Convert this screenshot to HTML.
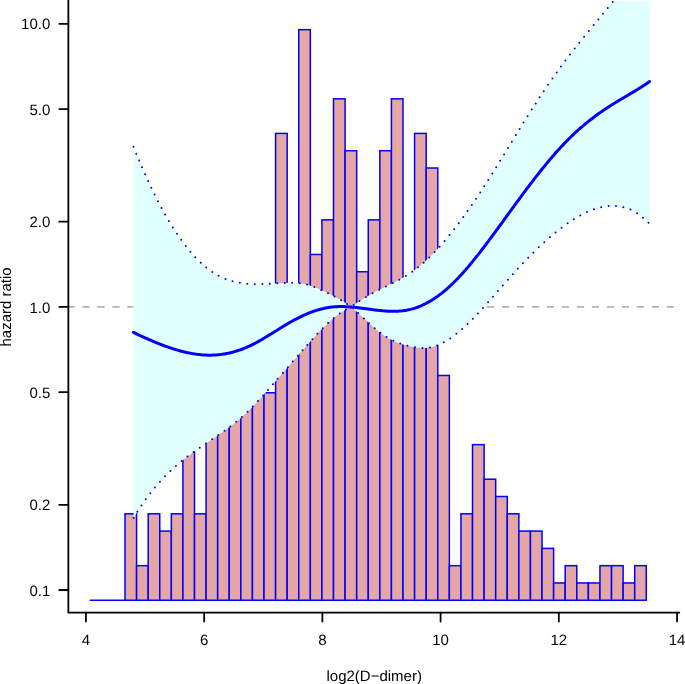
<!DOCTYPE html>
<html><head><meta charset="utf-8"><style>
html,body{margin:0;padding:0;background:#fff;}
body{width:685px;height:684px;overflow:hidden;}
svg{display:block;will-change:transform;}
text{font-family:"Liberation Sans",sans-serif;font-size:15.0px;fill:#000;text-rendering:geometricPrecision;}
</style></head><body>
<svg width="685" height="684" viewBox="0 0 685 684">
<defs><clipPath id="pc"><rect x="68.36" y="1.0" width="611.64" height="611.66"/></clipPath></defs>
<g clip-path="url(#pc)">
<line x1="67.4" y1="306.91" x2="680.0" y2="306.91" stroke="#B3B3B3" stroke-width="1.9" stroke-dasharray="7.2 7.785"/>
<rect x="125.00" y="513.80" width="11.58" height="86.45" fill="#E5A6A6" stroke="#0000FF" stroke-width="1.5"/>
<rect x="136.59" y="565.67" width="11.58" height="34.58" fill="#E5A6A6" stroke="#0000FF" stroke-width="1.5"/>
<rect x="148.17" y="513.80" width="11.58" height="86.45" fill="#E5A6A6" stroke="#0000FF" stroke-width="1.5"/>
<rect x="159.75" y="531.09" width="11.58" height="69.16" fill="#E5A6A6" stroke="#0000FF" stroke-width="1.5"/>
<rect x="171.34" y="513.80" width="11.58" height="86.45" fill="#E5A6A6" stroke="#0000FF" stroke-width="1.5"/>
<rect x="182.92" y="352.64" width="11.58" height="247.61" fill="#E5A6A6" stroke="#0000FF" stroke-width="1.5"/>
<rect x="194.51" y="513.80" width="11.58" height="86.45" fill="#E5A6A6" stroke="#0000FF" stroke-width="1.5"/>
<rect x="206.09" y="355.59" width="11.58" height="244.66" fill="#E5A6A6" stroke="#0000FF" stroke-width="1.5"/>
<rect x="217.67" y="354.79" width="11.58" height="245.46" fill="#E5A6A6" stroke="#0000FF" stroke-width="1.5"/>
<rect x="229.26" y="352.32" width="11.58" height="247.93" fill="#E5A6A6" stroke="#0000FF" stroke-width="1.5"/>
<rect x="240.84" y="348.20" width="11.58" height="252.05" fill="#E5A6A6" stroke="#0000FF" stroke-width="1.5"/>
<rect x="252.43" y="342.50" width="11.58" height="257.75" fill="#E5A6A6" stroke="#0000FF" stroke-width="1.5"/>
<rect x="264.01" y="392.77" width="11.58" height="207.48" fill="#E5A6A6" stroke="#0000FF" stroke-width="1.5"/>
<rect x="275.59" y="133.42" width="11.58" height="466.83" fill="#E5A6A6" stroke="#0000FF" stroke-width="1.5"/>
<rect x="287.18" y="322.07" width="11.58" height="278.18" fill="#E5A6A6" stroke="#0000FF" stroke-width="1.5"/>
<rect x="298.76" y="29.68" width="11.58" height="570.57" fill="#E5A6A6" stroke="#0000FF" stroke-width="1.5"/>
<rect x="310.35" y="254.45" width="11.58" height="345.80" fill="#E5A6A6" stroke="#0000FF" stroke-width="1.5"/>
<rect x="321.93" y="219.87" width="11.58" height="380.38" fill="#E5A6A6" stroke="#0000FF" stroke-width="1.5"/>
<rect x="333.51" y="98.84" width="11.58" height="501.41" fill="#E5A6A6" stroke="#0000FF" stroke-width="1.5"/>
<rect x="345.10" y="150.71" width="11.58" height="449.54" fill="#E5A6A6" stroke="#0000FF" stroke-width="1.5"/>
<rect x="356.68" y="271.74" width="11.58" height="328.51" fill="#E5A6A6" stroke="#0000FF" stroke-width="1.5"/>
<rect x="368.27" y="219.87" width="11.58" height="380.38" fill="#E5A6A6" stroke="#0000FF" stroke-width="1.5"/>
<rect x="379.85" y="150.71" width="11.58" height="449.54" fill="#E5A6A6" stroke="#0000FF" stroke-width="1.5"/>
<rect x="391.43" y="98.84" width="11.58" height="501.41" fill="#E5A6A6" stroke="#0000FF" stroke-width="1.5"/>
<rect x="403.02" y="310.04" width="11.58" height="290.21" fill="#E5A6A6" stroke="#0000FF" stroke-width="1.5"/>
<rect x="414.60" y="133.42" width="11.58" height="466.83" fill="#E5A6A6" stroke="#0000FF" stroke-width="1.5"/>
<rect x="426.19" y="168.00" width="11.58" height="432.25" fill="#E5A6A6" stroke="#0000FF" stroke-width="1.5"/>
<rect x="437.77" y="375.48" width="11.58" height="224.77" fill="#E5A6A6" stroke="#0000FF" stroke-width="1.5"/>
<rect x="449.35" y="565.67" width="11.58" height="34.58" fill="#E5A6A6" stroke="#0000FF" stroke-width="1.5"/>
<rect x="460.94" y="513.80" width="11.58" height="86.45" fill="#E5A6A6" stroke="#0000FF" stroke-width="1.5"/>
<rect x="472.52" y="444.64" width="11.58" height="155.61" fill="#E5A6A6" stroke="#0000FF" stroke-width="1.5"/>
<rect x="484.11" y="479.22" width="11.58" height="121.03" fill="#E5A6A6" stroke="#0000FF" stroke-width="1.5"/>
<rect x="495.69" y="496.51" width="11.58" height="103.74" fill="#E5A6A6" stroke="#0000FF" stroke-width="1.5"/>
<rect x="507.27" y="513.80" width="11.58" height="86.45" fill="#E5A6A6" stroke="#0000FF" stroke-width="1.5"/>
<rect x="518.86" y="531.09" width="11.58" height="69.16" fill="#E5A6A6" stroke="#0000FF" stroke-width="1.5"/>
<rect x="530.44" y="531.09" width="11.58" height="69.16" fill="#E5A6A6" stroke="#0000FF" stroke-width="1.5"/>
<rect x="542.03" y="548.38" width="11.58" height="51.87" fill="#E5A6A6" stroke="#0000FF" stroke-width="1.5"/>
<rect x="553.61" y="582.96" width="11.58" height="17.29" fill="#E5A6A6" stroke="#0000FF" stroke-width="1.5"/>
<rect x="565.19" y="565.67" width="11.58" height="34.58" fill="#E5A6A6" stroke="#0000FF" stroke-width="1.5"/>
<rect x="576.78" y="582.96" width="11.58" height="17.29" fill="#E5A6A6" stroke="#0000FF" stroke-width="1.5"/>
<rect x="588.36" y="582.96" width="11.58" height="17.29" fill="#E5A6A6" stroke="#0000FF" stroke-width="1.5"/>
<rect x="599.95" y="565.67" width="11.58" height="34.58" fill="#E5A6A6" stroke="#0000FF" stroke-width="1.5"/>
<rect x="611.53" y="565.67" width="11.58" height="34.58" fill="#E5A6A6" stroke="#0000FF" stroke-width="1.5"/>
<rect x="623.11" y="582.96" width="11.58" height="17.29" fill="#E5A6A6" stroke="#0000FF" stroke-width="1.5"/>
<rect x="634.70" y="565.67" width="11.58" height="34.58" fill="#E5A6A6" stroke="#0000FF" stroke-width="1.5"/>
<line x1="90.25" y1="600.25" x2="125.00" y2="600.25" stroke="#0000FF" stroke-width="1.5" stroke-linecap="round"/>
<polygon points="133.50,146.71 134.50,149.21 135.50,151.69 136.50,154.14 137.50,156.57 138.50,158.97 139.50,161.36 140.50,163.71 141.50,166.05 142.50,168.36 143.50,170.65 144.50,172.92 145.50,175.16 146.50,177.38 147.50,179.57 148.50,181.74 149.50,183.89 150.50,186.01 151.50,188.11 152.50,190.19 153.50,192.25 154.50,194.28 155.50,196.28 156.50,198.27 157.50,200.23 158.50,202.16 159.50,204.08 160.50,205.97 161.50,207.84 162.50,209.68 163.50,211.50 164.50,213.29 165.50,215.07 166.50,216.82 167.50,218.54 168.50,220.25 169.50,221.93 170.50,223.58 171.50,225.22 172.50,226.82 173.50,228.41 174.50,229.97 175.50,231.51 176.50,233.03 177.50,234.52 178.50,235.99 179.50,237.44 180.50,238.86 181.50,240.26 182.50,241.63 183.50,242.99 184.50,244.32 185.50,245.62 186.50,246.90 187.50,248.16 188.50,249.40 189.50,250.61 190.50,251.80 191.50,252.97 192.50,254.11 193.50,255.23 194.50,256.32 195.50,257.40 196.50,258.45 197.50,259.47 198.50,260.47 199.50,261.45 200.50,262.41 201.50,263.34 202.50,264.25 203.50,265.14 204.50,266.00 205.50,266.84 206.50,267.66 207.50,268.45 208.50,269.22 209.50,269.97 210.50,270.69 211.50,271.39 212.50,272.07 213.50,272.72 214.50,273.35 215.50,273.96 216.50,274.55 217.50,275.11 218.50,275.65 219.50,276.18 220.50,276.68 221.50,277.16 222.50,277.62 223.50,278.06 224.50,278.49 225.50,278.89 226.50,279.28 227.50,279.65 228.50,280.00 229.50,280.33 230.50,280.65 231.50,280.95 232.50,281.23 233.50,281.50 234.50,281.75 235.50,281.99 236.50,282.21 237.50,282.42 238.50,282.62 239.50,282.80 240.50,282.97 241.50,283.12 242.50,283.26 243.50,283.39 244.50,283.51 245.50,283.62 246.50,283.72 247.50,283.81 248.50,283.88 249.50,283.95 250.50,284.01 251.50,284.05 252.50,284.09 253.50,284.12 254.50,284.15 255.50,284.16 256.50,284.17 257.50,284.17 258.50,284.17 259.50,284.15 260.50,284.14 261.50,284.12 262.50,284.09 263.50,284.06 264.50,284.02 265.50,283.98 266.50,283.94 267.50,283.89 268.50,283.84 269.50,283.79 270.50,283.73 271.50,283.68 272.50,283.62 273.50,283.56 274.50,283.51 275.50,283.45 276.50,283.39 277.50,283.33 278.50,283.27 279.50,283.22 280.50,283.17 281.50,283.11 282.50,283.06 283.50,283.02 284.50,282.97 285.50,282.93 286.50,282.90 287.50,282.87 288.50,282.85 289.50,282.83 290.50,282.82 291.50,282.82 292.50,282.83 293.50,282.85 294.50,282.88 295.50,282.92 296.50,282.98 297.50,283.05 298.50,283.14 299.50,283.24 300.50,283.36 301.50,283.49 302.50,283.65 303.50,283.82 304.50,284.02 305.50,284.23 306.50,284.47 307.50,284.73 308.50,285.02 309.50,285.32 310.50,285.65 311.50,285.99 312.50,286.36 313.50,286.73 314.50,287.12 315.50,287.53 316.50,287.95 317.50,288.37 318.50,288.81 319.50,289.25 320.50,289.70 321.50,290.15 322.50,290.61 323.50,291.07 324.50,291.54 325.50,292.01 326.50,292.48 327.50,292.96 328.50,293.45 329.50,293.95 330.50,294.45 331.50,294.95 332.50,295.47 333.50,295.99 334.50,296.52 335.50,297.05 336.50,297.60 337.50,298.16 338.50,298.72 339.50,299.29 340.50,299.88 341.50,300.47 342.50,301.07 343.50,301.69 344.50,302.32 345.50,302.95 346.50,303.60 347.50,304.27 348.50,304.94 349.50,305.63 350.50,306.33 351.30,306.90 352.30,306.14 353.30,305.41 354.30,304.68 355.30,303.97 356.30,303.27 357.30,302.59 358.30,301.92 359.30,301.26 360.30,300.61 361.30,299.97 362.30,299.34 363.30,298.72 364.30,298.11 365.30,297.51 366.30,296.92 367.30,296.33 368.30,295.75 369.30,295.18 370.30,294.61 371.30,294.05 372.30,293.50 373.30,292.95 374.30,292.40 375.30,291.86 376.30,291.32 377.30,290.79 378.30,290.26 379.30,289.74 380.30,289.22 381.30,288.70 382.30,288.19 383.30,287.68 384.30,287.18 385.30,286.68 386.30,286.19 387.30,285.70 388.30,285.21 389.30,284.72 390.30,284.24 391.30,283.75 392.30,283.26 393.30,282.77 394.30,282.27 395.30,281.77 396.30,281.26 397.30,280.74 398.30,280.22 399.30,279.68 400.30,279.14 401.30,278.58 402.30,278.01 403.30,277.43 404.30,276.84 405.30,276.24 406.30,275.62 407.30,274.99 408.30,274.35 409.30,273.70 410.30,273.03 411.30,272.35 412.30,271.65 413.30,270.94 414.30,270.21 415.30,269.47 416.30,268.72 417.30,267.95 418.30,267.16 419.30,266.36 420.30,265.55 421.30,264.71 422.30,263.87 423.30,263.00 424.30,262.12 425.30,261.22 426.30,260.30 427.30,259.37 428.30,258.42 429.30,257.46 430.30,256.48 431.30,255.48 432.30,254.47 433.30,253.45 434.30,252.41 435.30,251.36 436.30,250.29 437.30,249.21 438.30,248.12 439.30,247.02 440.30,245.90 441.30,244.77 442.30,243.63 443.30,242.47 444.30,241.31 445.30,240.13 446.30,238.94 447.30,237.74 448.30,236.53 449.30,235.30 450.30,234.07 451.30,232.82 452.30,231.56 453.30,230.30 454.30,229.02 455.30,227.73 456.30,226.43 457.30,225.11 458.30,223.79 459.30,222.46 460.30,221.12 461.30,219.76 462.30,218.40 463.30,217.03 464.30,215.64 465.30,214.25 466.30,212.85 467.30,211.44 468.30,210.02 469.30,208.59 470.30,207.15 471.30,205.70 472.30,204.24 473.30,202.77 474.30,201.30 475.30,199.81 476.30,198.32 477.30,196.82 478.30,195.31 479.30,193.79 480.30,192.27 481.30,190.73 482.30,189.19 483.30,187.65 484.30,186.09 485.30,184.53 486.30,182.97 487.30,181.40 488.30,179.82 489.30,178.23 490.30,176.65 491.30,175.05 492.30,173.46 493.30,171.85 494.30,170.25 495.30,168.64 496.30,167.02 497.30,165.40 498.30,163.78 499.30,162.16 500.30,160.53 501.30,158.91 502.30,157.28 503.30,155.64 504.30,154.01 505.30,152.37 506.30,150.74 507.30,149.10 508.30,147.46 509.30,145.82 510.30,144.18 511.30,142.55 512.30,140.91 513.30,139.27 514.30,137.63 515.30,136.00 516.30,134.37 517.30,132.73 518.30,131.11 519.30,129.48 520.30,127.85 521.30,126.23 522.30,124.61 523.30,123.00 524.30,121.39 525.30,119.78 526.30,118.18 527.30,116.58 528.30,114.98 529.30,113.39 530.30,111.81 531.30,110.23 532.30,108.66 533.30,107.09 534.30,105.53 535.30,103.98 536.30,102.43 537.30,100.89 538.30,99.36 539.30,97.83 540.30,96.31 541.30,94.80 542.30,93.29 543.30,91.80 544.30,90.31 545.30,88.82 546.30,87.35 547.30,85.88 548.30,84.42 549.30,82.96 550.30,81.51 551.30,80.07 552.30,78.64 553.30,77.22 554.30,75.80 555.30,74.39 556.30,72.98 557.30,71.59 558.30,70.20 559.30,68.82 560.30,67.45 561.30,66.08 562.30,64.72 563.30,63.37 564.30,62.03 565.30,60.69 566.30,59.37 567.30,58.05 568.30,56.73 569.30,55.43 570.30,54.13 571.30,52.84 572.30,51.55 573.30,50.27 574.30,48.99 575.30,47.72 576.30,46.46 577.30,45.20 578.30,43.95 579.30,42.70 580.30,41.45 581.30,40.21 582.30,38.97 583.30,37.74 584.30,36.50 585.30,35.27 586.30,34.05 587.30,32.82 588.30,31.60 589.30,30.38 590.30,29.17 591.30,27.95 592.30,26.73 593.30,25.52 594.30,24.31 595.30,23.09 596.30,21.88 597.30,20.67 598.30,19.45 599.30,18.24 600.30,17.02 601.30,15.81 602.30,14.59 603.30,13.38 604.30,12.16 605.30,10.95 606.30,9.74 607.30,8.52 608.30,7.31 609.30,6.11 610.30,4.90 611.30,3.69 612.30,2.49 613.30,1.29 614.30,0.09 615.30,-1.11 616.30,-2.30 617.30,-3.49 618.30,-4.68 619.30,-5.86 620.30,-7.04 621.30,-8.22 622.30,-9.39 623.30,-10.56 624.30,-11.72 625.30,-12.88 626.30,-14.03 627.30,-15.18 628.30,-16.32 629.30,-17.46 630.30,-18.59 631.30,-19.71 632.30,-20.83 633.30,-21.94 634.30,-23.05 635.30,-24.15 636.30,-25.24 637.30,-26.33 638.30,-27.40 639.30,-28.47 640.30,-29.54 641.30,-30.59 642.30,-31.64 643.30,-32.67 644.30,-33.70 645.30,-34.72 646.30,-35.73 647.30,-36.73 648.30,-37.72 649.30,-38.71 649.60,-39.00 649.60,224.00 649.30,223.69 648.30,222.67 647.30,221.67 646.30,220.70 645.30,219.76 644.30,218.85 643.30,217.97 642.30,217.12 641.30,216.30 640.30,215.51 639.30,214.76 638.30,214.04 637.30,213.35 636.30,212.70 635.30,212.09 634.30,211.50 633.30,210.96 632.30,210.44 631.30,209.95 630.30,209.50 629.30,209.08 628.30,208.69 627.30,208.32 626.30,207.99 625.30,207.68 624.30,207.40 623.30,207.15 622.30,206.92 621.30,206.72 620.30,206.55 619.30,206.39 618.30,206.26 617.30,206.16 616.30,206.07 615.30,206.01 614.30,205.97 613.30,205.95 612.30,205.95 611.30,205.96 610.30,206.00 609.30,206.06 608.30,206.14 607.30,206.24 606.30,206.36 605.30,206.49 604.30,206.65 603.30,206.82 602.30,207.01 601.30,207.22 600.30,207.45 599.30,207.69 598.30,207.96 597.30,208.24 596.30,208.53 595.30,208.85 594.30,209.18 593.30,209.52 592.30,209.88 591.30,210.26 590.30,210.66 589.30,211.06 588.30,211.49 587.30,211.93 586.30,212.38 585.30,212.85 584.30,213.33 583.30,213.83 582.30,214.34 581.30,214.86 580.30,215.40 579.30,215.95 578.30,216.51 577.30,217.09 576.30,217.67 575.30,218.27 574.30,218.89 573.30,219.51 572.30,220.15 571.30,220.79 570.30,221.45 569.30,222.12 568.30,222.80 567.30,223.50 566.30,224.20 565.30,224.91 564.30,225.64 563.30,226.37 562.30,227.12 561.30,227.87 560.30,228.64 559.30,229.41 558.30,230.20 557.30,230.99 556.30,231.80 555.30,232.61 554.30,233.44 553.30,234.27 552.30,235.11 551.30,235.96 550.30,236.82 549.30,237.69 548.30,238.57 547.30,239.45 546.30,240.35 545.30,241.25 544.30,242.16 543.30,243.08 542.30,244.00 541.30,244.94 540.30,245.88 539.30,246.83 538.30,247.78 537.30,248.75 536.30,249.72 535.30,250.70 534.30,251.68 533.30,252.67 532.30,253.67 531.30,254.67 530.30,255.68 529.30,256.70 528.30,257.72 527.30,258.75 526.30,259.79 525.30,260.83 524.30,261.87 523.30,262.93 522.30,263.98 521.30,265.04 520.30,266.11 519.30,267.18 518.30,268.26 517.30,269.34 516.30,270.43 515.30,271.52 514.30,272.61 513.30,273.71 512.30,274.82 511.30,275.92 510.30,277.03 509.30,278.15 508.30,279.27 507.30,280.39 506.30,281.51 505.30,282.64 504.30,283.77 503.30,284.91 502.30,286.05 501.30,287.18 500.30,288.33 499.30,289.47 498.30,290.61 497.30,291.76 496.30,292.90 495.30,294.05 494.30,295.19 493.30,296.34 492.30,297.48 491.30,298.62 490.30,299.76 489.30,300.89 488.30,302.03 487.30,303.16 486.30,304.28 485.30,305.40 484.30,306.52 483.30,307.63 482.30,308.73 481.30,309.83 480.30,310.92 479.30,312.00 478.30,313.08 477.30,314.15 476.30,315.21 475.30,316.26 474.30,317.30 473.30,318.33 472.30,319.35 471.30,320.37 470.30,321.37 469.30,322.36 468.30,323.33 467.30,324.30 466.30,325.25 465.30,326.19 464.30,327.11 463.30,328.03 462.30,328.92 461.30,329.80 460.30,330.67 459.30,331.52 458.30,332.36 457.30,333.17 456.30,333.97 455.30,334.76 454.30,335.52 453.30,336.27 452.30,337.00 451.30,337.71 450.30,338.40 449.30,339.06 448.30,339.71 447.30,340.34 446.30,340.94 445.30,341.53 444.30,342.09 443.30,342.63 442.30,343.14 441.30,343.64 440.30,344.10 439.30,344.55 438.30,344.97 437.30,345.36 436.30,345.73 435.30,346.07 434.30,346.38 433.30,346.67 432.30,346.93 431.30,347.16 430.30,347.36 429.30,347.54 428.30,347.68 427.30,347.80 426.30,347.89 425.30,347.96 424.30,348.00 423.30,348.02 422.30,348.01 421.30,347.98 420.30,347.93 419.30,347.86 418.30,347.76 417.30,347.65 416.30,347.53 415.30,347.38 414.30,347.22 413.30,347.04 412.30,346.85 411.30,346.64 410.30,346.42 409.30,346.19 408.30,345.95 407.30,345.70 406.30,345.43 405.30,345.16 404.30,344.88 403.30,344.58 402.30,344.27 401.30,343.95 400.30,343.61 399.30,343.26 398.30,342.89 397.30,342.51 396.30,342.11 395.30,341.68 394.30,341.25 393.30,340.79 392.30,340.31 391.30,339.80 390.30,339.28 389.30,338.73 388.30,338.16 387.30,337.57 386.30,336.95 385.30,336.30 384.30,335.63 383.30,334.94 382.30,334.22 381.30,333.48 380.30,332.72 379.30,331.95 378.30,331.15 377.30,330.34 376.30,329.51 375.30,328.67 374.30,327.81 373.30,326.94 372.30,326.06 371.30,325.17 370.30,324.27 369.30,323.36 368.30,322.45 367.30,321.53 366.30,320.60 365.30,319.67 364.30,318.74 363.30,317.81 362.30,316.87 361.30,315.94 360.30,315.01 359.30,314.08 358.30,313.16 357.30,312.24 356.30,311.33 355.30,310.43 354.30,309.53 353.30,308.64 352.30,307.77 351.30,306.90 350.60,307.20 349.60,307.66 348.60,308.14 347.60,308.65 346.60,309.18 345.60,309.74 344.60,310.32 343.60,310.93 342.60,311.56 341.60,312.22 340.60,312.90 339.60,313.59 338.60,314.32 337.60,315.06 336.60,315.82 335.60,316.61 334.60,317.41 333.60,318.23 332.60,319.07 331.60,319.93 330.60,320.80 329.60,321.70 328.60,322.61 327.60,323.53 326.60,324.47 325.60,325.43 324.60,326.39 323.60,327.38 322.60,328.37 321.60,329.38 320.60,330.40 319.60,331.43 318.60,332.48 317.60,333.53 316.60,334.59 315.60,335.67 314.60,336.75 313.60,337.84 312.60,338.94 311.60,340.04 310.60,341.15 309.60,342.27 308.60,343.40 307.60,344.53 306.60,345.66 305.60,346.80 304.60,347.94 303.60,349.08 302.60,350.23 301.60,351.38 300.60,352.53 299.60,353.68 298.60,354.83 297.60,355.98 296.60,357.13 295.60,358.29 294.60,359.44 293.60,360.59 292.60,361.73 291.60,362.88 290.60,364.03 289.60,365.18 288.60,366.33 287.60,367.48 286.60,368.62 285.60,369.77 284.60,370.92 283.60,372.06 282.60,373.21 281.60,374.36 280.60,375.50 279.60,376.65 278.60,377.80 277.60,378.94 276.60,380.09 275.60,381.23 274.60,382.38 273.60,383.52 272.60,384.67 271.60,385.81 270.60,386.96 269.60,388.10 268.60,389.24 267.60,390.38 266.60,391.52 265.60,392.65 264.60,393.78 263.60,394.90 262.60,396.02 261.60,397.13 260.60,398.24 259.60,399.33 258.60,400.42 257.60,401.51 256.60,402.58 255.60,403.64 254.60,404.70 253.60,405.74 252.60,406.77 251.60,407.79 250.60,408.80 249.60,409.80 248.60,410.78 247.60,411.75 246.60,412.70 245.60,413.64 244.60,414.57 243.60,415.48 242.60,416.37 241.60,417.26 240.60,418.13 239.60,418.99 238.60,419.84 237.60,420.68 236.60,421.51 235.60,422.32 234.60,423.13 233.60,423.92 232.60,424.71 231.60,425.49 230.60,426.26 229.60,427.02 228.60,427.77 227.60,428.51 226.60,429.25 225.60,429.98 224.60,430.71 223.60,431.43 222.60,432.14 221.60,432.85 220.60,433.55 219.60,434.25 218.60,434.94 217.60,435.63 216.60,436.32 215.60,437.00 214.60,437.68 213.60,438.36 212.60,439.04 211.60,439.72 210.60,440.39 209.60,441.06 208.60,441.74 207.60,442.41 206.60,443.08 205.60,443.76 204.60,444.43 203.60,445.11 202.60,445.79 201.60,446.47 200.60,447.15 199.60,447.84 198.60,448.53 197.60,449.23 196.60,449.92 195.60,450.63 194.60,451.34 193.60,452.05 192.60,452.77 191.60,453.49 190.60,454.22 189.60,454.96 188.60,455.71 187.60,456.46 186.60,457.22 185.60,457.99 184.60,458.77 183.60,459.56 182.60,460.35 181.60,461.16 180.60,461.97 179.60,462.80 178.60,463.64 177.60,464.49 176.60,465.34 175.60,466.22 174.60,467.10 173.60,468.00 172.60,468.90 171.60,469.83 170.60,470.76 169.60,471.71 168.60,472.67 167.60,473.65 166.60,474.64 165.60,475.65 164.60,476.68 163.60,477.71 162.60,478.77 161.60,479.84 160.60,480.93 159.60,482.04 158.60,483.16 157.60,484.30 156.60,485.46 155.60,486.64 154.60,487.84 153.60,489.06 152.60,490.30 151.60,491.55 150.60,492.83 149.60,494.13 148.60,495.45 147.60,496.79 146.60,498.15 145.60,499.54 144.60,500.94 143.60,502.37 142.60,503.83 141.60,505.30 140.60,506.80 139.60,508.33 138.60,509.88 137.60,511.45 136.60,513.05 135.60,514.68 134.60,516.33 133.60,518.00" fill="#E0FFFF" stroke="none"/>
<g fill="#0000FF">
<circle cx="133.50" cy="146.71" r="1.0"/>
<circle cx="136.30" cy="153.66" r="1.0"/>
<circle cx="139.17" cy="160.57" r="1.0"/>
<circle cx="142.07" cy="167.37" r="1.0"/>
<circle cx="145.11" cy="174.29" r="1.0"/>
<circle cx="148.19" cy="181.06" r="1.0"/>
<circle cx="151.34" cy="187.78" r="1.0"/>
<circle cx="154.63" cy="194.54" r="1.0"/>
<circle cx="157.98" cy="201.16" r="1.0"/>
<circle cx="161.53" cy="207.89" r="1.0"/>
<circle cx="165.16" cy="214.47" r="1.0"/>
<circle cx="168.89" cy="220.90" r="1.0"/>
<circle cx="172.87" cy="227.42" r="1.0"/>
<circle cx="176.97" cy="233.72" r="1.0"/>
<circle cx="181.22" cy="239.86" r="1.0"/>
<circle cx="185.74" cy="245.93" r="1.0"/>
<circle cx="190.44" cy="251.73" r="1.0"/>
<circle cx="195.30" cy="257.18" r="1.0"/>
<circle cx="200.76" cy="262.65" r="1.0"/>
<circle cx="206.25" cy="267.46" r="1.0"/>
<circle cx="212.33" cy="271.95" r="1.0"/>
<circle cx="218.68" cy="275.75" r="1.0"/>
<circle cx="225.49" cy="278.89" r="1.0"/>
<circle cx="232.57" cy="281.25" r="1.0"/>
<circle cx="239.86" cy="282.86" r="1.0"/>
<circle cx="247.33" cy="283.79" r="1.0"/>
<circle cx="254.70" cy="284.15" r="1.0"/>
<circle cx="262.40" cy="284.09" r="1.0"/>
<circle cx="269.81" cy="283.77" r="1.0"/>
<circle cx="277.32" cy="283.34" r="1.0"/>
<circle cx="284.82" cy="282.96" r="1.0"/>
<circle cx="292.20" cy="282.82" r="1.0"/>
<circle cx="299.80" cy="283.27" r="1.0"/>
<circle cx="307.07" cy="284.62" r="1.0"/>
<circle cx="314.30" cy="287.05" r="1.0"/>
<circle cx="321.11" cy="289.98" r="1.0"/>
<circle cx="328.00" cy="293.21" r="1.0"/>
<circle cx="334.61" cy="296.58" r="1.0"/>
<circle cx="341.04" cy="300.20" r="1.0"/>
<circle cx="347.12" cy="304.02" r="1.0"/>
<circle cx="353.72" cy="305.10" r="1.0"/>
<circle cx="359.51" cy="301.12" r="1.0"/>
<circle cx="365.95" cy="297.12" r="1.0"/>
<circle cx="372.53" cy="293.37" r="1.0"/>
<circle cx="379.15" cy="289.81" r="1.0"/>
<circle cx="385.89" cy="286.39" r="1.0"/>
<circle cx="392.88" cy="282.97" r="1.0"/>
<circle cx="399.34" cy="279.66" r="1.0"/>
<circle cx="405.84" cy="275.90" r="1.0"/>
<circle cx="412.18" cy="271.73" r="1.0"/>
<circle cx="418.08" cy="267.34" r="1.0"/>
<circle cx="423.62" cy="262.71" r="1.0"/>
<circle cx="429.22" cy="257.53" r="1.0"/>
<circle cx="434.60" cy="252.09" r="1.0"/>
<circle cx="439.65" cy="246.63" r="1.0"/>
<circle cx="444.58" cy="240.98" r="1.0"/>
<circle cx="449.53" cy="235.02" r="1.0"/>
<circle cx="454.17" cy="229.18" r="1.0"/>
<circle cx="458.75" cy="223.19" r="1.0"/>
<circle cx="463.25" cy="217.09" r="1.0"/>
<circle cx="467.54" cy="211.09" r="1.0"/>
<circle cx="471.83" cy="204.92" r="1.0"/>
<circle cx="476.02" cy="198.74" r="1.0"/>
<circle cx="480.21" cy="192.41" r="1.0"/>
<circle cx="484.24" cy="186.19" r="1.0"/>
<circle cx="488.25" cy="179.90" r="1.0"/>
<circle cx="492.30" cy="173.46" r="1.0"/>
<circle cx="496.21" cy="167.17" r="1.0"/>
<circle cx="500.14" cy="160.79" r="1.0"/>
<circle cx="504.07" cy="154.38" r="1.0"/>
<circle cx="507.93" cy="148.06" r="1.0"/>
<circle cx="511.84" cy="141.66" r="1.0"/>
<circle cx="515.85" cy="135.11" r="1.0"/>
<circle cx="519.65" cy="128.91" r="1.0"/>
<circle cx="523.54" cy="122.60" r="1.0"/>
<circle cx="527.55" cy="116.17" r="1.0"/>
<circle cx="531.72" cy="109.57" r="1.0"/>
<circle cx="535.68" cy="103.39" r="1.0"/>
<circle cx="539.60" cy="97.37" r="1.0"/>
<circle cx="543.75" cy="91.13" r="1.0"/>
<circle cx="548.03" cy="84.82" r="1.0"/>
<circle cx="552.38" cy="78.53" r="1.0"/>
<circle cx="556.73" cy="72.39" r="1.0"/>
<circle cx="560.91" cy="66.61" r="1.0"/>
<circle cx="565.37" cy="60.60" r="1.0"/>
<circle cx="569.96" cy="54.57" r="1.0"/>
<circle cx="574.68" cy="48.51" r="1.0"/>
<circle cx="579.20" cy="42.82" r="1.0"/>
<circle cx="584.08" cy="36.78" r="1.0"/>
<circle cx="588.85" cy="30.94" r="1.0"/>
<circle cx="593.68" cy="25.06" r="1.0"/>
<circle cx="598.33" cy="19.42" r="1.0"/>
<circle cx="602.96" cy="13.79" r="1.0"/>
<circle cx="607.76" cy="7.97" r="1.0"/>
<circle cx="612.67" cy="2.04" r="1.0"/>
<circle cx="133.60" cy="518.00" r="1.0"/>
<circle cx="137.37" cy="511.82" r="1.0"/>
<circle cx="141.46" cy="505.51" r="1.0"/>
<circle cx="145.78" cy="499.29" r="1.0"/>
<circle cx="150.30" cy="493.22" r="1.0"/>
<circle cx="154.93" cy="487.44" r="1.0"/>
<circle cx="159.95" cy="481.65" r="1.0"/>
<circle cx="164.94" cy="476.33" r="1.0"/>
<circle cx="170.37" cy="470.98" r="1.0"/>
<circle cx="175.92" cy="465.94" r="1.0"/>
<circle cx="181.69" cy="461.09" r="1.0"/>
<circle cx="187.53" cy="456.51" r="1.0"/>
<circle cx="193.67" cy="452.00" r="1.0"/>
<circle cx="199.76" cy="447.74" r="1.0"/>
<circle cx="206.02" cy="443.48" r="1.0"/>
<circle cx="212.18" cy="439.32" r="1.0"/>
<circle cx="218.34" cy="435.12" r="1.0"/>
<circle cx="224.51" cy="430.77" r="1.0"/>
<circle cx="230.36" cy="426.44" r="1.0"/>
<circle cx="236.29" cy="421.76" r="1.0"/>
<circle cx="241.95" cy="416.95" r="1.0"/>
<circle cx="247.57" cy="411.78" r="1.0"/>
<circle cx="252.79" cy="406.58" r="1.0"/>
<circle cx="257.99" cy="401.08" r="1.0"/>
<circle cx="263.13" cy="395.42" r="1.0"/>
<circle cx="268.02" cy="389.90" r="1.0"/>
<circle cx="272.92" cy="384.30" r="1.0"/>
<circle cx="277.66" cy="378.87" r="1.0"/>
<circle cx="282.88" cy="372.89" r="1.0"/>
<circle cx="287.86" cy="367.18" r="1.0"/>
<circle cx="292.74" cy="361.57" r="1.0"/>
<circle cx="297.86" cy="355.68" r="1.0"/>
<circle cx="302.53" cy="350.31" r="1.0"/>
<circle cx="307.28" cy="344.88" r="1.0"/>
<circle cx="312.39" cy="339.17" r="1.0"/>
<circle cx="317.43" cy="333.71" r="1.0"/>
<circle cx="322.69" cy="328.29" r="1.0"/>
<circle cx="328.13" cy="323.04" r="1.0"/>
<circle cx="333.84" cy="318.03" r="1.0"/>
<circle cx="339.82" cy="313.44" r="1.0"/>
<circle cx="345.92" cy="309.56" r="1.0"/>
<circle cx="352.67" cy="308.09" r="1.0"/>
<circle cx="358.16" cy="313.03" r="1.0"/>
<circle cx="363.92" cy="318.38" r="1.0"/>
<circle cx="369.07" cy="323.15" r="1.0"/>
<circle cx="374.73" cy="328.18" r="1.0"/>
<circle cx="380.45" cy="332.84" r="1.0"/>
<circle cx="386.51" cy="337.08" r="1.0"/>
<circle cx="393.34" cy="340.81" r="1.0"/>
<circle cx="400.27" cy="343.60" r="1.0"/>
<circle cx="407.44" cy="345.73" r="1.0"/>
<circle cx="414.98" cy="347.33" r="1.0"/>
<circle cx="422.50" cy="348.01" r="1.0"/>
<circle cx="429.97" cy="347.42" r="1.0"/>
<circle cx="437.11" cy="345.43" r="1.0"/>
<circle cx="443.82" cy="342.35" r="1.0"/>
<circle cx="450.25" cy="338.43" r="1.0"/>
<circle cx="456.45" cy="333.86" r="1.0"/>
<circle cx="462.09" cy="329.11" r="1.0"/>
<circle cx="467.55" cy="324.05" r="1.0"/>
<circle cx="472.82" cy="318.82" r="1.0"/>
<circle cx="477.95" cy="313.45" r="1.0"/>
<circle cx="482.97" cy="307.99" r="1.0"/>
<circle cx="488.08" cy="302.28" r="1.0"/>
<circle cx="492.93" cy="296.76" r="1.0"/>
<circle cx="497.88" cy="291.10" r="1.0"/>
<circle cx="502.88" cy="285.39" r="1.0"/>
<circle cx="507.90" cy="279.71" r="1.0"/>
<circle cx="512.88" cy="274.17" r="1.0"/>
<circle cx="517.80" cy="268.80" r="1.0"/>
<circle cx="522.98" cy="263.27" r="1.0"/>
<circle cx="528.17" cy="257.86" r="1.0"/>
<circle cx="533.34" cy="252.64" r="1.0"/>
<circle cx="538.75" cy="247.36" r="1.0"/>
<circle cx="544.28" cy="242.18" r="1.0"/>
<circle cx="549.88" cy="237.18" r="1.0"/>
<circle cx="555.58" cy="232.38" r="1.0"/>
<circle cx="561.57" cy="227.67" r="1.0"/>
<circle cx="567.62" cy="223.28" r="1.0"/>
<circle cx="573.87" cy="219.15" r="1.0"/>
<circle cx="580.25" cy="215.43" r="1.0"/>
<circle cx="586.99" cy="212.07" r="1.0"/>
<circle cx="593.93" cy="209.30" r="1.0"/>
<circle cx="601.19" cy="207.25" r="1.0"/>
<circle cx="608.62" cy="206.12" r="1.0"/>
<circle cx="615.98" cy="206.05" r="1.0"/>
<circle cx="623.31" cy="207.15" r="1.0"/>
<circle cx="630.47" cy="209.58" r="1.0"/>
<circle cx="637.04" cy="213.19" r="1.0"/>
<circle cx="642.98" cy="217.69" r="1.0"/>
<circle cx="648.47" cy="222.84" r="1.0"/>
</g>
<polyline points="133.50,332.40 134.50,332.89 135.50,333.37 136.50,333.85 137.50,334.33 138.50,334.80 139.50,335.27 140.50,335.74 141.50,336.21 142.50,336.67 143.50,337.13 144.50,337.59 145.50,338.04 146.50,338.49 147.50,338.93 148.50,339.37 149.50,339.81 150.50,340.24 151.50,340.67 152.50,341.10 153.50,341.52 154.50,341.94 155.50,342.35 156.50,342.76 157.50,343.16 158.50,343.56 159.50,343.96 160.50,344.34 161.50,344.73 162.50,345.11 163.50,345.48 164.50,345.85 165.50,346.22 166.50,346.58 167.50,346.93 168.50,347.28 169.50,347.62 170.50,347.95 171.50,348.28 172.50,348.61 173.50,348.93 174.50,349.24 175.50,349.55 176.50,349.84 177.50,350.14 178.50,350.42 179.50,350.70 180.50,350.97 181.50,351.24 182.50,351.50 183.50,351.74 184.50,351.99 185.50,352.22 186.50,352.45 187.50,352.67 188.50,352.88 189.50,353.08 190.50,353.27 191.50,353.46 192.50,353.63 193.50,353.80 194.50,353.96 195.50,354.11 196.50,354.25 197.50,354.38 198.50,354.50 199.50,354.61 200.50,354.71 201.50,354.81 202.50,354.89 203.50,354.96 204.50,355.02 205.50,355.07 206.50,355.11 207.50,355.14 208.50,355.16 209.50,355.17 210.50,355.16 211.50,355.15 212.50,355.12 213.50,355.09 214.50,355.04 215.50,354.98 216.50,354.91 217.50,354.82 218.50,354.73 219.50,354.62 220.50,354.51 221.50,354.38 222.50,354.24 223.50,354.09 224.50,353.92 225.50,353.75 226.50,353.56 227.50,353.37 228.50,353.16 229.50,352.93 230.50,352.70 231.50,352.46 232.50,352.20 233.50,351.93 234.50,351.65 235.50,351.36 236.50,351.06 237.50,350.74 238.50,350.42 239.50,350.08 240.50,349.73 241.50,349.36 242.50,348.99 243.50,348.60 244.50,348.20 245.50,347.79 246.50,347.37 247.50,346.93 248.50,346.49 249.50,346.03 250.50,345.56 251.50,345.07 252.50,344.58 253.50,344.07 254.50,343.56 255.50,343.03 256.50,342.50 257.50,341.95 258.50,341.40 259.50,340.84 260.50,340.27 261.50,339.69 262.50,339.11 263.50,338.52 264.50,337.93 265.50,337.33 266.50,336.72 267.50,336.12 268.50,335.50 269.50,334.89 270.50,334.27 271.50,333.65 272.50,333.03 273.50,332.41 274.50,331.78 275.50,331.16 276.50,330.53 277.50,329.91 278.50,329.29 279.50,328.67 280.50,328.05 281.50,327.43 282.50,326.82 283.50,326.21 284.50,325.61 285.50,325.01 286.50,324.41 287.50,323.82 288.50,323.24 289.50,322.66 290.50,322.09 291.50,321.53 292.50,320.97 293.50,320.43 294.50,319.89 295.50,319.35 296.50,318.83 297.50,318.32 298.50,317.81 299.50,317.31 300.50,316.82 301.50,316.34 302.50,315.87 303.50,315.41 304.50,314.96 305.50,314.52 306.50,314.09 307.50,313.67 308.50,313.25 309.50,312.85 310.50,312.46 311.50,312.09 312.50,311.72 313.50,311.36 314.50,311.02 315.50,310.68 316.50,310.36 317.50,310.05 318.50,309.76 319.50,309.47 320.50,309.20 321.50,308.94 322.50,308.69 323.50,308.46 324.50,308.24 325.50,308.03 326.50,307.84 327.50,307.66 328.50,307.50 329.50,307.35 330.50,307.21 331.50,307.09 332.50,306.98 333.50,306.88 334.50,306.80 335.50,306.73 336.50,306.68 337.50,306.63 338.50,306.60 339.50,306.58 340.50,306.57 341.50,306.57 342.50,306.57 343.50,306.59 344.50,306.62 345.50,306.66 346.50,306.70 347.50,306.76 348.50,306.82 349.50,306.89 350.50,306.97 351.50,307.05 352.50,307.14 353.50,307.23 354.50,307.33 355.50,307.44 356.50,307.55 357.50,307.66 358.50,307.78 359.50,307.90 360.50,308.02 361.50,308.15 362.50,308.28 363.50,308.41 364.50,308.55 365.50,308.68 366.50,308.82 367.50,308.95 368.50,309.09 369.50,309.23 370.50,309.36 371.50,309.50 372.50,309.63 373.50,309.76 374.50,309.89 375.50,310.01 376.50,310.14 377.50,310.25 378.50,310.37 379.50,310.48 380.50,310.58 381.50,310.68 382.50,310.78 383.50,310.87 384.50,310.95 385.50,311.02 386.50,311.09 387.50,311.15 388.50,311.20 389.50,311.24 390.50,311.28 391.50,311.30 392.50,311.32 393.50,311.32 394.50,311.31 395.50,311.29 396.50,311.26 397.50,311.22 398.50,311.17 399.50,311.10 400.50,311.02 401.50,310.92 402.50,310.82 403.50,310.69 404.50,310.55 405.50,310.40 406.50,310.23 407.50,310.05 408.50,309.84 409.50,309.62 410.50,309.39 411.50,309.13 412.50,308.86 413.50,308.57 414.50,308.26 415.50,307.94 416.50,307.59 417.50,307.23 418.50,306.85 419.50,306.46 420.50,306.05 421.50,305.61 422.50,305.17 423.50,304.70 424.50,304.22 425.50,303.72 426.50,303.20 427.50,302.66 428.50,302.11 429.50,301.54 430.50,300.96 431.50,300.35 432.50,299.73 433.50,299.09 434.50,298.44 435.50,297.76 436.50,297.07 437.50,296.37 438.50,295.64 439.50,294.90 440.50,294.14 441.50,293.37 442.50,292.58 443.50,291.77 444.50,290.94 445.50,290.10 446.50,289.24 447.50,288.37 448.50,287.47 449.50,286.56 450.50,285.64 451.50,284.69 452.50,283.73 453.50,282.76 454.50,281.77 455.50,280.76 456.50,279.74 457.50,278.71 458.50,277.66 459.50,276.59 460.50,275.51 461.50,274.42 462.50,273.32 463.50,272.20 464.50,271.07 465.50,269.93 466.50,268.78 467.50,267.61 468.50,266.44 469.50,265.25 470.50,264.05 471.50,262.84 472.50,261.62 473.50,260.40 474.50,259.16 475.50,257.91 476.50,256.66 477.50,255.40 478.50,254.13 479.50,252.85 480.50,251.56 481.50,250.27 482.50,248.97 483.50,247.66 484.50,246.35 485.50,245.03 486.50,243.71 487.50,242.38 488.50,241.04 489.50,239.71 490.50,238.36 491.50,237.02 492.50,235.67 493.50,234.31 494.50,232.95 495.50,231.59 496.50,230.23 497.50,228.86 498.50,227.50 499.50,226.13 500.50,224.75 501.50,223.38 502.50,222.01 503.50,220.63 504.50,219.25 505.50,217.87 506.50,216.50 507.50,215.12 508.50,213.74 509.50,212.36 510.50,210.98 511.50,209.61 512.50,208.23 513.50,206.86 514.50,205.48 515.50,204.11 516.50,202.74 517.50,201.38 518.50,200.01 519.50,198.65 520.50,197.29 521.50,195.93 522.50,194.58 523.50,193.23 524.50,191.88 525.50,190.54 526.50,189.21 527.50,187.87 528.50,186.54 529.50,185.22 530.50,183.90 531.50,182.59 532.50,181.29 533.50,179.98 534.50,178.69 535.50,177.40 536.50,176.12 537.50,174.84 538.50,173.57 539.50,172.31 540.50,171.05 541.50,169.80 542.50,168.56 543.50,167.32 544.50,166.09 545.50,164.87 546.50,163.66 547.50,162.46 548.50,161.26 549.50,160.07 550.50,158.89 551.50,157.72 552.50,156.55 553.50,155.40 554.50,154.25 555.50,153.11 556.50,151.99 557.50,150.87 558.50,149.76 559.50,148.66 560.50,147.57 561.50,146.49 562.50,145.42 563.50,144.36 564.50,143.31 565.50,142.27 566.50,141.24 567.50,140.23 568.50,139.22 569.50,138.22 570.50,137.24 571.50,136.27 572.50,135.31 573.50,134.36 574.50,133.42 575.50,132.49 576.50,131.57 577.50,130.66 578.50,129.76 579.50,128.87 580.50,128.00 581.50,127.13 582.50,126.27 583.50,125.42 584.50,124.58 585.50,123.75 586.50,122.93 587.50,122.12 588.50,121.32 589.50,120.53 590.50,119.74 591.50,118.97 592.50,118.20 593.50,117.44 594.50,116.69 595.50,115.95 596.50,115.21 597.50,114.49 598.50,113.77 599.50,113.06 600.50,112.35 601.50,111.65 602.50,110.96 603.50,110.28 604.50,109.61 605.50,108.94 606.50,108.27 607.50,107.62 608.50,106.97 609.50,106.32 610.50,105.68 611.50,105.05 612.50,104.43 613.50,103.80 614.50,103.19 615.50,102.57 616.50,101.97 617.50,101.36 618.50,100.76 619.50,100.16 620.50,99.56 621.50,98.97 622.50,98.37 623.50,97.78 624.50,97.19 625.50,96.60 626.50,96.01 627.50,95.42 628.50,94.83 629.50,94.24 630.50,93.64 631.50,93.05 632.50,92.45 633.50,91.85 634.50,91.25 635.50,90.64 636.50,90.03 637.50,89.42 638.50,88.80 639.50,88.17 640.50,87.55 641.50,86.91 642.50,86.27 643.50,85.63 644.50,84.97 645.50,84.31 646.50,83.65 647.50,82.97 648.50,82.29 649.50,81.60" fill="none" stroke="#0000FF" stroke-width="3" stroke-linejoin="round" stroke-linecap="round"/>
</g>
<path d="M68.36,-2 V612.66 H679.3" fill="none" stroke="#000" stroke-width="1.8" stroke-linecap="round"/>
<line x1="59.26" y1="590.00" x2="68.36" y2="590.00" stroke="#000" stroke-width="1.8" stroke-linecap="round"/>
<text x="50.25" y="595.60" text-anchor="end">0.1</text>
<line x1="59.26" y1="504.78" x2="68.36" y2="504.78" stroke="#000" stroke-width="1.8" stroke-linecap="round"/>
<text x="50.25" y="510.38" text-anchor="end">0.2</text>
<line x1="59.26" y1="392.13" x2="68.36" y2="392.13" stroke="#000" stroke-width="1.8" stroke-linecap="round"/>
<text x="50.25" y="397.73" text-anchor="end">0.5</text>
<line x1="59.26" y1="306.91" x2="68.36" y2="306.91" stroke="#000" stroke-width="1.8" stroke-linecap="round"/>
<text x="50.25" y="312.51" text-anchor="end">1.0</text>
<line x1="59.26" y1="221.69" x2="68.36" y2="221.69" stroke="#000" stroke-width="1.8" stroke-linecap="round"/>
<text x="50.25" y="227.29" text-anchor="end">2.0</text>
<line x1="59.26" y1="109.04" x2="68.36" y2="109.04" stroke="#000" stroke-width="1.8" stroke-linecap="round"/>
<text x="50.25" y="114.64" text-anchor="end">5.0</text>
<line x1="59.26" y1="23.82" x2="68.36" y2="23.82" stroke="#000" stroke-width="1.8" stroke-linecap="round"/>
<text x="50.25" y="29.42" text-anchor="end">10.0</text>
<line x1="85.94" y1="612.66" x2="85.94" y2="621.61" stroke="#000" stroke-width="1.8" stroke-linecap="round"/>
<text x="85.94" y="645.0" text-anchor="middle">4</text>
<line x1="204.16" y1="612.66" x2="204.16" y2="621.61" stroke="#000" stroke-width="1.8" stroke-linecap="round"/>
<text x="204.16" y="645.0" text-anchor="middle">6</text>
<line x1="322.38" y1="612.66" x2="322.38" y2="621.61" stroke="#000" stroke-width="1.8" stroke-linecap="round"/>
<text x="322.38" y="645.0" text-anchor="middle">8</text>
<line x1="440.60" y1="612.66" x2="440.60" y2="621.61" stroke="#000" stroke-width="1.8" stroke-linecap="round"/>
<text x="440.60" y="645.0" text-anchor="middle">10</text>
<line x1="558.82" y1="612.66" x2="558.82" y2="621.61" stroke="#000" stroke-width="1.8" stroke-linecap="round"/>
<text x="558.82" y="645.0" text-anchor="middle">12</text>
<line x1="677.04" y1="612.66" x2="677.04" y2="621.61" stroke="#000" stroke-width="1.8" stroke-linecap="round"/>
<text x="677.04" y="645.0" text-anchor="middle">14</text>
<text x="374.2" y="680.5" text-anchor="middle">log2(D−dimer)</text>
<text transform="translate(11.1,306.9) rotate(-90)" text-anchor="middle">hazard ratio</text>
</svg>
</body></html>
